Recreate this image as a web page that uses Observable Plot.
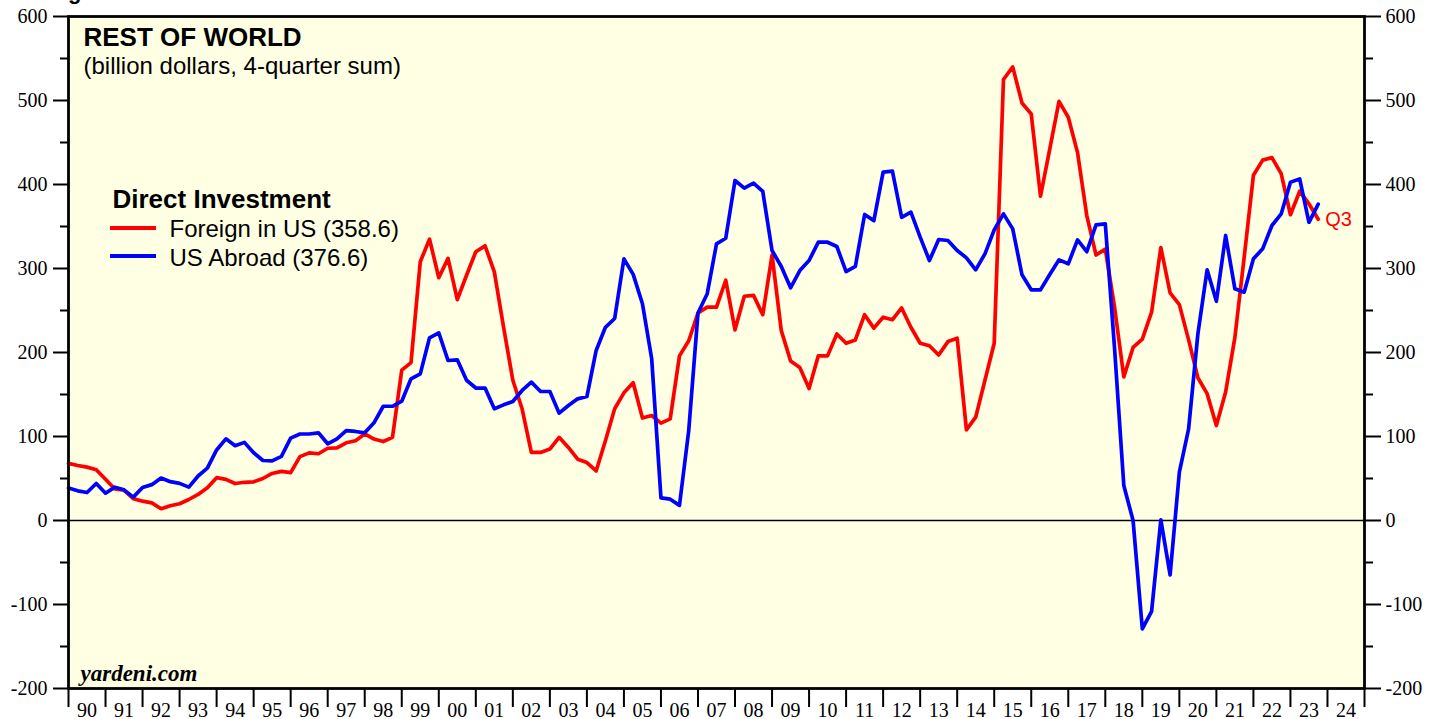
<!DOCTYPE html>
<html>
<head>
<meta charset="utf-8">
<script src="https://cdn.jsdelivr.net/npm/d3@7"></script>
<script src="https://cdn.jsdelivr.net/npm/@observablehq/plot@0.6"></script>
<style>
  html, body { margin: 0; padding: 0; background: #ffffff; overflow: hidden; }
  #chart svg { display: block; }
</style>
</head>
<body>
<div id="chart"></div>
<script>
// Quarterly, 4-quarter sums (billion dollars), 1989Q4 .. 2023Q3
const foreignInUS = [
  68, 65.5, 63.5, 60.5, 49, 37.5, 36, 26, 23, 21,
  14, 17.5, 20, 25, 31, 39, 51, 49, 44, 45.5,
  46, 50, 56, 58.5, 57, 76, 80.5, 79.5, 86, 86.5,
  92.5, 95, 103, 97, 94, 99, 179, 188, 308, 335,
  289, 312, 263, 292, 320, 327, 296, 230, 167, 133,
  81, 81, 85, 99, 87, 73, 69, 59, 95, 133,
  152, 164, 122, 125, 116, 121, 196, 214, 247, 254,
  254, 286, 227, 267, 268, 245, 316, 226, 190, 182,
  157, 196, 196, 222, 211, 215, 245, 229, 242, 239,
  253, 230, 211, 208, 197, 213, 217, 108, 123, 167,
  211, 525, 540, 497, 484, 386, 442, 499, 480, 438,
  363, 316, 323, 254, 171, 206, 216, 248, 325, 271,
  257, 215, 170, 151, 113, 153, 218, 313, 411, 429,
  432, 413, 364, 392, 377, 358.6
];
const usAbroad = [
  38.7, 35.3, 33.3, 44, 32.5, 39.7, 36.5, 27.8, 39.2, 42.7,
  50.6, 46.2, 44.2, 39.7, 53, 62.3, 84, 97.2, 89, 93,
  80.7, 71.4, 71, 76.4, 98, 103, 103, 104.4, 91.3, 97.2,
  107, 106, 104.4, 116.3, 136, 136, 142, 168.7, 174.6, 217.5,
  223.4, 190.5, 191.3, 167, 157.7, 157.7, 133, 137.7, 141.7, 154.8,
  164.7, 153.6, 153.6, 127.8, 136.9, 144.8, 147.6, 202.4, 230, 240.5,
  311.5, 293, 258, 192.5, 27, 25.4, 18, 107, 247, 270,
  329.4, 336, 404.8, 395.6, 401.6, 391.7, 321.4, 302.4, 277, 297.6,
  309.5, 331.3, 331.3, 326.2, 296.4, 302.4, 364.3, 357, 414.7, 415.9,
  361, 367, 337.3, 309.5, 334.5, 333.3, 321.4, 312.7, 298.4, 317.5,
  346, 365, 347.2, 292.5, 274.6, 274.6, 292.9, 310.3, 305.6, 334,
  320, 352, 353.2, 205, 41.7, 0, -129, -108.3, 0.8, -64.7,
  57.5, 109, 222, 298.4, 261, 339.3, 275.8, 271.8, 311.5, 323.4,
  351.2, 365, 402.8, 406.7, 355, 376.6
];
const yearLabels = ["90","91","92","93","94","95","96","97","98","99",
  "00","01","02","03","04","05","06","07","08","09",
  "10","11","12","13","14","15","16","17","18","19",
  "20","21","22","23","24"];
const firstYear = 1990;            // first point = end of 1989Q4
const yMajor = [-200, -100, 0, 100, 200, 300, 400, 500, 600];
const yMinor = [-150, -50, 50, 150, 250, 350, 450, 550];
const seriesNames = ["Foreign in US (358.6)", "US Abroad (376.6)"];
const seriesColors = ["#ff0000", "#0000ff"];

// build tables (x = quarter-end position in years)
const toRows = (arr) => arr.map((v, i) => ({t: firstYear + i / 4, v}));
const redRows = toRows(foreignInUS);
const blueRows = toRows(usAbroad);
const yearTicks = d3.range(firstYear, firstYear + yearLabels.length + 1);
const yearMids = yearLabels.map((_, i) => firstYear + i + 0.5);

const SANS = "'Liberation Sans', Arial, Helvetica, sans-serif";
const SERIF = "'Liberation Serif', 'Times New Roman', Times, serif";

const chart = Plot.plot({
  width: 1441,
  height: 719,
  marginLeft: 68,
  marginRight: 77,
  marginTop: 16,
  marginBottom: 31,
  x: {domain: [firstYear, firstYear + yearLabels.length]},
  y: {domain: [-200, 600]},
  style: {background: "#ffffff", color: "#000000", fontFamily: SERIF, fontSize: "20px", overflow: "visible"},
  marks: [
    Plot.frame({fill: "#ffffe4", stroke: "none"}),
    Plot.ruleY([0], {stroke: "#000000", strokeWidth: 1.4}),
    Plot.line(redRows, {x: "t", y: "v", stroke: seriesColors[0], strokeWidth: 3.7}),
    Plot.line(blueRows, {x: "t", y: "v", stroke: seriesColors[1], strokeWidth: 3.7}),
    Plot.text([redRows[redRows.length - 1]], {
      x: "t", y: "v", text: () => "Q3", dx: 7, textAnchor: "start", lineAnchor: "middle",
      fill: seriesColors[0], fontFamily: SANS, fontSize: 20
    }),
    Plot.frame({stroke: "#000000", strokeWidth: 2.8}),
    // left axis
    Plot.axisY(yMajor, {anchor: "left", tickSize: 15, tickPadding: 6, strokeWidth: 2,
      tickFormat: d => String(d), label: null, fontSize: 20, fontFamily: SERIF}),
    Plot.axisY(yMinor, {anchor: "left", tickSize: 8, strokeWidth: 2, tickFormat: () => "", label: null}),
    // right axis
    Plot.axisY(yMajor, {anchor: "right", tickSize: 16, tickPadding: 5, strokeWidth: 2,
      tickFormat: d => String(d), label: null, fontSize: 20, fontFamily: SERIF}),
    Plot.axisY(yMinor, {anchor: "right", tickSize: 8, strokeWidth: 2, tickFormat: () => "", label: null}),
    // bottom axis
    Plot.axisX(yearTicks, {anchor: "bottom", tickSize: 19, strokeWidth: 2, tickFormat: () => "", label: null}),
    Plot.axisX(yearMids, {anchor: "bottom", tickSize: 0, tickPadding: 14,
      tickFormat: d => yearLabels[Math.floor(d) - firstYear], label: null, fontSize: 20, fontFamily: SERIF}),
    // titles inside the frame
    Plot.text(["REST OF WORLD"], {frameAnchor: "top-left", dx: 15, dy: 29, text: d => d,
      textAnchor: "start", lineAnchor: "bottom", fontFamily: SANS, fontWeight: "bold", fontSize: 26, fill: "#000"}),
    Plot.text(["(billion dollars, 4-quarter sum)"], {frameAnchor: "top-left", dx: 15, dy: 57, text: d => d,
      textAnchor: "start", lineAnchor: "bottom", fontFamily: SANS, fontSize: 24, fill: "#000"}),
    Plot.text(["Direct Investment"], {frameAnchor: "top-left", dx: 44, dy: 191, text: d => d,
      textAnchor: "start", lineAnchor: "bottom", fontFamily: SANS, fontWeight: "bold", fontSize: 26, fill: "#000"}),
    Plot.text([seriesNames[0]], {frameAnchor: "top-left", dx: 101, dy: 220, text: d => d,
      textAnchor: "start", lineAnchor: "bottom", fontFamily: SANS, fontSize: 24, fill: "#000"}),
    Plot.text([seriesNames[1]], {frameAnchor: "top-left", dx: 101, dy: 249, text: d => d,
      textAnchor: "start", lineAnchor: "bottom", fontFamily: SANS, fontSize: 24, fill: "#000"}),
    Plot.text(["yardeni.com"], {frameAnchor: "bottom-left", dx: 12, dy: -8, text: d => d,
      textAnchor: "start", lineAnchor: "bottom", fontFamily: SERIF, fontWeight: "bold", fontStyle: "italic", fontSize: 23, fill: "#000"})
  ]
});

const svg = d3.select(chart);
// force serif tick labels (Times-like, as in the reference)
svg.selectAll('g[aria-label$="tick label"]')
  .style("font-family", SERIF)
  .style("font-size", "20px");

// legend swatches
[228, 256].forEach((yy, i) => {
  svg.append("line")
    .attr("x1", 110).attr("x2", 156)
    .attr("y1", yy).attr("y2", yy)
    .attr("stroke", seriesColors[i])
    .attr("stroke-width", 4);
});

// cut-off figure heading at the very top, as in the reference
svg.append("text")
  .attr("x", 82).attr("y", -1)
  .style("font-family", SANS)
  .style("font-weight", "bold")
  .style("font-size", "22px")
  .attr("fill", "#000")
  .text("Figure");

document.getElementById("chart").appendChild(chart);
</script>
</body>
</html>
